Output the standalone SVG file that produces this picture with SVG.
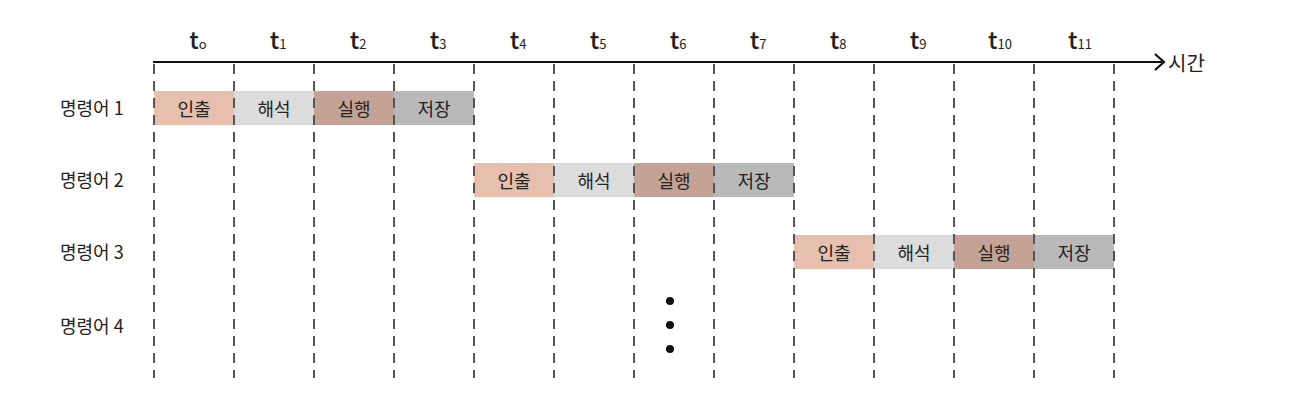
<svg xmlns="http://www.w3.org/2000/svg" width="1304" height="416" viewBox="0 0 1304 416">
<style>
.grid{stroke:#555;stroke-width:2;stroke-dasharray:10 7}
.axis{stroke:#111;stroke-width:2.2;fill:none}
.t{font-family:"Noto Sans CJK KR","Noto Sans",sans-serif;font-size:24px;font-weight:500;fill:#222;text-anchor:middle}
.sub{font-size:13px;font-weight:400}
.lbl{font-family:"Noto Sans CJK KR",sans-serif;font-size:18px;fill:#222}
.cell{font-family:"Noto Sans CJK KR",sans-serif;font-size:18px;fill:#222;text-anchor:middle;dominant-baseline:central}
.f{fill:#e6bfad}.d{fill:#dcdcdc}.e{fill:#c4a295}.s{fill:#b9b9b9}
</style>
<rect width="1304" height="416" fill="#fff"/>
<g id="bars">
<g id="row1">
<rect class="f" x="154" y="91" width="80" height="34"/><text class="cell" x="194" y="108">인출</text>
<rect class="d" x="234" y="91" width="80" height="34"/><text class="cell" x="274" y="108">해석</text>
<rect class="e" x="314" y="91" width="80" height="34"/><text class="cell" x="354" y="108">실행</text>
<rect class="s" x="394" y="91" width="80" height="34"/><text class="cell" x="434" y="108">저장</text>
</g>
<g id="row2">
<rect class="f" x="474" y="163" width="80" height="34"/><text class="cell" x="514" y="180">인출</text>
<rect class="d" x="554" y="163" width="80" height="34"/><text class="cell" x="594" y="180">해석</text>
<rect class="e" x="634" y="163" width="80" height="34"/><text class="cell" x="674" y="180">실행</text>
<rect class="s" x="714" y="163" width="80" height="34"/><text class="cell" x="754" y="180">저장</text>
</g>
<g id="row3">
<rect class="f" x="794" y="235" width="80" height="34"/><text class="cell" x="834" y="252">인출</text>
<rect class="d" x="874" y="235" width="80" height="34"/><text class="cell" x="914" y="252">해석</text>
<rect class="e" x="954" y="235" width="80" height="34"/><text class="cell" x="994" y="252">실행</text>
<rect class="s" x="1034" y="235" width="80" height="34"/><text class="cell" x="1074" y="252">저장</text>
</g>
</g>
<g id="connectors">
<g class="grid">
<line x1="154" y1="64" x2="154" y2="378"/>
<line x1="234" y1="64" x2="234" y2="378"/>
<line x1="314" y1="64" x2="314" y2="378"/>
<line x1="394" y1="64" x2="394" y2="378"/>
<line x1="474" y1="64" x2="474" y2="378"/>
<line x1="554" y1="64" x2="554" y2="378"/>
<line x1="634" y1="64" x2="634" y2="378"/>
<line x1="714" y1="64" x2="714" y2="378"/>
<line x1="794" y1="64" x2="794" y2="378"/>
<line x1="874" y1="64" x2="874" y2="378"/>
<line x1="954" y1="64" x2="954" y2="378"/>
<line x1="1034" y1="64" x2="1034" y2="378"/>
<line x1="1114" y1="64" x2="1114" y2="378"/>
</g>
<path class="axis" d="M153 62 H1162"/>
<path class="axis" d="M1155 54 L1164 62 L1155 70"/>
</g>
<g id="axis-labels">
<text class="t" x="198" y="49">t<tspan class="sub">o</tspan></text>
<text class="t" x="278" y="49">t<tspan class="sub">1</tspan></text>
<text class="t" x="358" y="49">t<tspan class="sub">2</tspan></text>
<text class="t" x="438" y="49">t<tspan class="sub">3</tspan></text>
<text class="t" x="518" y="49">t<tspan class="sub">4</tspan></text>
<text class="t" x="598" y="49">t<tspan class="sub">5</tspan></text>
<text class="t" x="678" y="49">t<tspan class="sub">6</tspan></text>
<text class="t" x="758" y="49">t<tspan class="sub">7</tspan></text>
<text class="t" x="838" y="49">t<tspan class="sub">8</tspan></text>
<text class="t" x="918" y="49">t<tspan class="sub">9</tspan></text>
<text class="t" x="1000" y="49">t<tspan class="sub">10</tspan></text>
<text class="t" x="1080" y="49">t<tspan class="sub">11</tspan></text>
<text class="lbl" x="1168" y="71" style="font-size:20px">시간</text>
</g>
<g id="row-labels">
<text class="lbl" x="60" y="115">명령어 1</text>
<text class="lbl" x="60" y="187">명령어 2</text>
<text class="lbl" x="60" y="259">명령어 3</text>
<text class="lbl" x="60" y="333">명령어 4</text>
</g>
<g id="ellipsis" fill="#111">
<circle cx="670" cy="301" r="4"/>
<circle cx="670" cy="325" r="4"/>
<circle cx="670" cy="349" r="4"/>
</g>
</svg>
